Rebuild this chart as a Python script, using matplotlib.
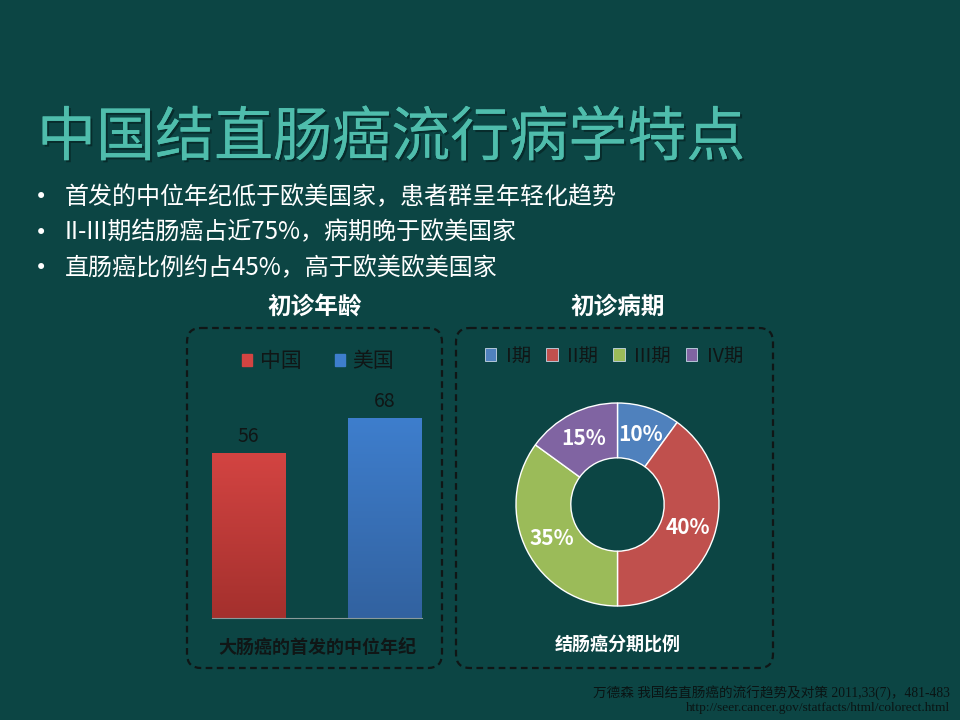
import matplotlib
matplotlib.use('Agg')
import matplotlib.pyplot as plt
import matplotlib.patches as mpatches
import matplotlib.transforms as mtransforms
import matplotlib.patheffects as pe
import numpy as np

plt.rcParams['font.family'] = ['Noto Sans CJK SC', 'DejaVu Sans']

title = '中国结直肠癌流行病学特点'
bullets = ['首发的中位年纪低于欧美国家，患者群呈年轻化趋势',
           'II-III期结肠癌占近75%，病期晚于欧美国家',
           '直肠癌比例约占45%，高于欧美欧美国家']

age_countries = ['中国', '美国']
age_values = [56, 68]
age_top = ['#d34442', '#3e7ecd']
age_bottom = ['#a4302d', '#3262a0']

stage_labels = ['I期', 'II期', 'III期', 'IV期']
stage_values = [10, 40, 35, 15]
stage_colors = ['#4f81bd', '#c0504d', '#9bbb59', '#8064a2']

refs = ['万德森 我国结直肠癌的流行趋势及对策 2011,33(7)，481-483',
        'http://seer.cancer.gov/statfacts/html/colorect.html']

BG = '#0c4544'
DARK = '#101616'

fig = plt.figure(figsize=(9.6, 7.2), dpi=100, facecolor=BG)
# pixel coordinates, origin at top-left
px = mtransforms.Affine2D().scale(1 / 960, -1 / 720).translate(0, 1) + fig.transFigure


def add_axes_px(x0, y0, x1, y1):
    return fig.add_axes([x0 / 960, 1 - y1 / 720, (x1 - x0) / 960, (y1 - y0) / 720])


# title and bullets
fig.text(37, 139, title, transform=px, fontsize=42.5, color='#4fbdac', va='center', ha='left',
         fontweight='light',
         path_effects=[pe.withSimplePatchShadow(offset=(1.5, -1.5), shadow_rgbFace='black', alpha=0.35),
                       pe.Normal()])
for i, b in enumerate(bullets):
    y = 197 + i * 35.5
    fig.text(35, y, '•', transform=px, fontsize=15, color='white', va='center', family=['DejaVu Sans'])
    fig.text(65, y, b, transform=px, fontsize=17.3, color='white', va='center')

# dashed panels
for (x0, x1), head, cx in [((187, 442), '初诊年龄', 315), ((456, 773), '初诊病期', 618)]:
    box = mpatches.FancyBboxPatch((x0, 328), x1 - x0, 340, boxstyle='round,pad=0,rounding_size=14',
                                  transform=px, fill=False, edgecolor=DARK, lw=1.6,
                                  linestyle=(0, (3, 2)))
    fig.patches.append(box)
    fig.text(cx, 307, head, transform=px, fontsize=17, fontweight='bold', color='white',
             ha='center', va='center')

# bar chart
ax = add_axes_px(212, 383, 421.5, 618)
ax.set_facecolor('none')
x = np.arange(len(age_values))
bars = ax.bar(x, age_values, width=0.535, color=age_top, label=age_countries)
for b, c_top, c_bot in zip(bars, age_top, age_bottom):
    b.set_facecolor('none')
    x0, y0 = b.get_x(), b.get_y()
    grad = np.linspace(0, 1, 256).reshape(-1, 1)
    ct = np.array(matplotlib.colors.to_rgb(c_top))
    cb = np.array(matplotlib.colors.to_rgb(c_bot))
    img = ct[None, None, :] * (1 - grad[:, :, None]) + cb[None, None, :] * grad[:, :, None]
    im = ax.imshow(img, extent=[x0, x0 + b.get_width(), y0, y0 + b.get_height()],
                   aspect='auto', zorder=2, origin='upper')
    im.set_clip_path(b)
for b, v in zip(bars, age_values):
    ax.text(b.get_x() + b.get_width() / 2, v + 2.2, str(v), ha='center', va='bottom',
            fontsize=14, color=DARK)
ax.set_xlim(-0.2675, 1.2675)
ax.set_ylim(0, 80)
for s in ['top', 'right', 'left']:
    ax.spines[s].set_visible(False)
ax.spines['bottom'].set_color('#8a9a9a')
ax.set_xticks([])
ax.set_yticks([])
handles = [mpatches.Patch(color=c, label=l) for c, l in zip(age_top, age_countries)]
ax.legend(handles=handles, ncol=2, loc='center', bbox_to_anchor=(318, 361), bbox_transform=px,
          frameon=False, fontsize=15, labelcolor=DARK, handlelength=0.5, handleheight=0.5,
          handletextpad=0.35, columnspacing=1.6)
fig.text(317, 647, '大肠癌的首发的中位年纪', transform=px, fontsize=13, fontweight='bold',
         color=DARK, ha='center', va='center')

# donut chart
ax2 = add_axes_px(516, 403, 719, 606)
ax2.set_facecolor('none')
wedges, texts, autotexts = ax2.pie(stage_values, colors=stage_colors, startangle=90,
                                   counterclock=False, autopct='%d%%', pctdistance=0.73,
                                   wedgeprops=dict(width=0.54, edgecolor='white', linewidth=1),
                                   textprops=dict(color='white', fontsize=15, fontweight='bold'))
ax2.set_xlim(-1, 1)
ax2.set_ylim(-1, 1)
ax2.set_aspect('equal')
ax2.axis('off')
handles2 = [mpatches.Patch(facecolor=c, edgecolor='#c8d8e8', lw=0.6, label=l)
            for c, l in zip(stage_colors, stage_labels)]
ax2.legend(handles=handles2, ncol=4, loc='center', bbox_to_anchor=(614, 356), bbox_transform=px,
           frameon=False, fontsize=14, labelcolor=DARK, handlelength=0.6, handleheight=0.6,
           handletextpad=0.5, columnspacing=0.75)
fig.text(618, 645, '结肠癌分期比例', transform=px, fontsize=13, fontweight='bold',
         color='white', ha='center', va='center')

# references
fig.text(950, 693, refs[0], transform=px, fontsize=9.8, color='#0a1414', ha='right', va='center',
         family=['Liberation Serif', 'Noto Sans CJK SC'])
fig.text(950, 708, refs[1], transform=px, fontsize=9.6, color='#0a1414', ha='right', va='center',
         family=['Liberation Serif'])

fig.savefig('out.png', dpi=100, facecolor=BG)
